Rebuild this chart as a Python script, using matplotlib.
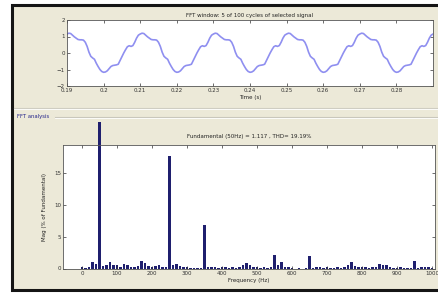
import matplotlib.pyplot as plt
import numpy as np
from matplotlib.patches import Rectangle
from matplotlib.lines import Line2D
from matplotlib.transforms import Bbox, TransformedBbox

# one cycle of the selected signal (time offset in s, value)
cycle_offset = [0.0, 0.0005, 0.001, 0.0015, 0.002, 0.0025, 0.003, 0.0035, 0.004, 0.0045,
                0.005, 0.0055, 0.006, 0.0065, 0.007, 0.0075, 0.008, 0.0085, 0.009, 0.0095,
                0.010, 0.0105, 0.011, 0.0115, 0.012, 0.0125, 0.013, 0.0135, 0.014, 0.0145,
                0.015, 0.0155, 0.016, 0.0165, 0.017, 0.0175, 0.018, 0.0185, 0.019, 0.0195]
cycle_value = [1.15, 1.20, 1.18, 1.08, 0.98, 0.90, 0.82, 0.80, 0.80, 0.78,
               0.65, 0.40, 0.05, -0.20, -0.30, -0.38, -0.62, -0.82, -1.00, -1.12,
               -1.17, -1.15, -1.08, -0.95, -0.82, -0.76, -0.74, -0.72, -0.68, -0.45,
               -0.22, 0.00, 0.20, 0.38, 0.44, 0.40, 0.45, 0.65, 0.90, 1.08]
cycle_starts = [0.19, 0.21, 0.23, 0.25, 0.27]
last_point = (0.29, 1.15)

# spectrum, % of fundamental, 10 Hz resolution
freqs = list(range(0, 1001, 10))
mags = [0.3, 0.15, 0.3, 1.0, 0.7, 100, 0.4, 0.5, 1.0, 0.6,
        0.5, 0.3, 0.7, 0.5, 0.3, 0.3, 0.4, 1.1, 0.9, 0.4,
        0.3, 0.4, 0.5, 0.2, 0.3, 17.7, 0.5, 0.7, 0.4, 0.3,
        0.2, 0.1, 0.1, 0.1, 0.1, 6.8, 0.2, 0.3, 0.2, 0.1,
        0.2, 0.2, 0.1, 0.2, 0.1, 0.3, 0.5, 0.8, 0.5, 0.3,
        0.2, 0.1, 0.2, 0.1, 0.2, 2.1, 0.6, 1.0, 0.3, 0.2,
        0.1, 0.0, 0.1, 0.0, 0.1, 1.9, 0.1, 0.2, 0.3, 0.1,
        0.2, 0.1, 0.1, 0.2, 0.1, 0.3, 0.5, 1.0, 0.4, 0.3,
        0.2, 0.3, 0.1, 0.2, 0.3, 0.7, 0.5, 0.5, 0.2, 0.1,
        0.1, 0.2, 0.1, 0.1, 0.1, 1.2, 0.1, 0.3, 0.3, 0.2,
        0.1]

time_ticks = [0.19, 0.2, 0.21, 0.22, 0.23, 0.24, 0.25, 0.26, 0.27, 0.28]
time_ticklabels = ["0.19", "0.2", "0.21", "0.22", "0.23", "0.24", "0.25", "0.26", "0.27", "0.28"]
freq_ticks = [0, 100, 200, 300, 400, 500, 600, 700, 800, 900, 1000]

W, H = 438, 296
BEIGE = "#ece9d8"
WAVE = "#8f8ff0"
BARS = "#1f1f6e"


def fx(px):
    return px / W


def fy(py):
    return 1 - py / H


def style_axes(ax):
    ax.set_facecolor("white")
    ax.tick_params(direction="in", length=2, width=0.5, labelsize=4,
                   top=True, right=True, pad=1.5, colors="#333333")
    for s in ax.spines.values():
        s.set_linewidth(0.6)
        s.set_color("#555555")


fig = plt.figure(figsize=(W / 100, H / 100), dpi=100)
fig.patch.set_facecolor("white")

# window frame, kept behind the axes
fig.patches.append(Rectangle((fx(12), fy(290)), fx(450) - fx(12), fy(5) - fy(290),
                             transform=fig.transFigure, facecolor=BEIGE,
                             edgecolor="#151515", linewidth=2.2, zorder=-10))
for y, x0, c, lw in [(108, 14, "#cfcdc2", 0.8), (109, 14, "white", 0.6),
                     (116.5, 55, "#c9c7bc", 0.8), (117.5, 55, "white", 0.6)]:
    fig.lines.append(Line2D([fx(x0), fx(438)], [fy(y), fy(y)], transform=fig.transFigure,
                            color=c, linewidth=lw, zorder=-5))
fig.text(fx(17), fy(116.5), "FFT analysis", fontsize=3.8, color="#22228a", va="center")

# top: signal window
t_sig = []
v_sig = []
for start in cycle_starts:
    t_sig += [start + dt for dt in cycle_offset]
    v_sig += cycle_value
t_sig.append(last_point[0])
v_sig.append(last_point[1])

ax1 = fig.add_axes([fx(67), fy(86), fx(433) - fx(67), fy(20) - fy(86)])
ax1.plot(t_sig, v_sig, color=WAVE, linewidth=1.2, solid_joinstyle="round")
ax1.set_xlim(0.19, 0.29)
ax1.set_ylim(-2, 2)
ax1.set_xticks(time_ticks)
ax1.set_xticklabels(time_ticklabels)
ax1.set_yticks([-2, -1, 0, 1, 2])
style_axes(ax1)
ax1.set_title("FFT window: 5 of 100 cycles of selected signal", fontsize=4, pad=2, color="#222222")
ax1.set_xlabel("Time (s)", fontsize=4, labelpad=1.5, color="#222222")

# bottom: spectrum
ax2 = fig.add_axes([fx(63), fy(268.5), fx(435) - fx(63), fy(145) - fy(268.5)])
bars = ax2.bar(freqs, mags, width=7, color=BARS, linewidth=0)
ax2.set_xlim(-54, 1008)
ax2.set_ylim(0, 19.4)
ax2.set_xticks(freq_ticks)
ax2.set_yticks([0, 5, 10, 15])
style_axes(ax2)
clip = TransformedBbox(Bbox([[0, 0], [1, 1.19]]), ax2.transAxes)
for b in bars:
    b.set_clip_on(True)
    b.set_clip_box(clip)
ax2.set_title("Fundamental (50Hz) = 1.117 , THD= 19.19%", fontsize=4, pad=5, color="#222222")
ax2.set_xlabel("Frequency (Hz)", fontsize=4, labelpad=2, color="#222222")
ax2.set_ylabel("Mag (% of Fundamental)", fontsize=4, labelpad=5, color="#222222")

fig.savefig("out.png", dpi=100)
